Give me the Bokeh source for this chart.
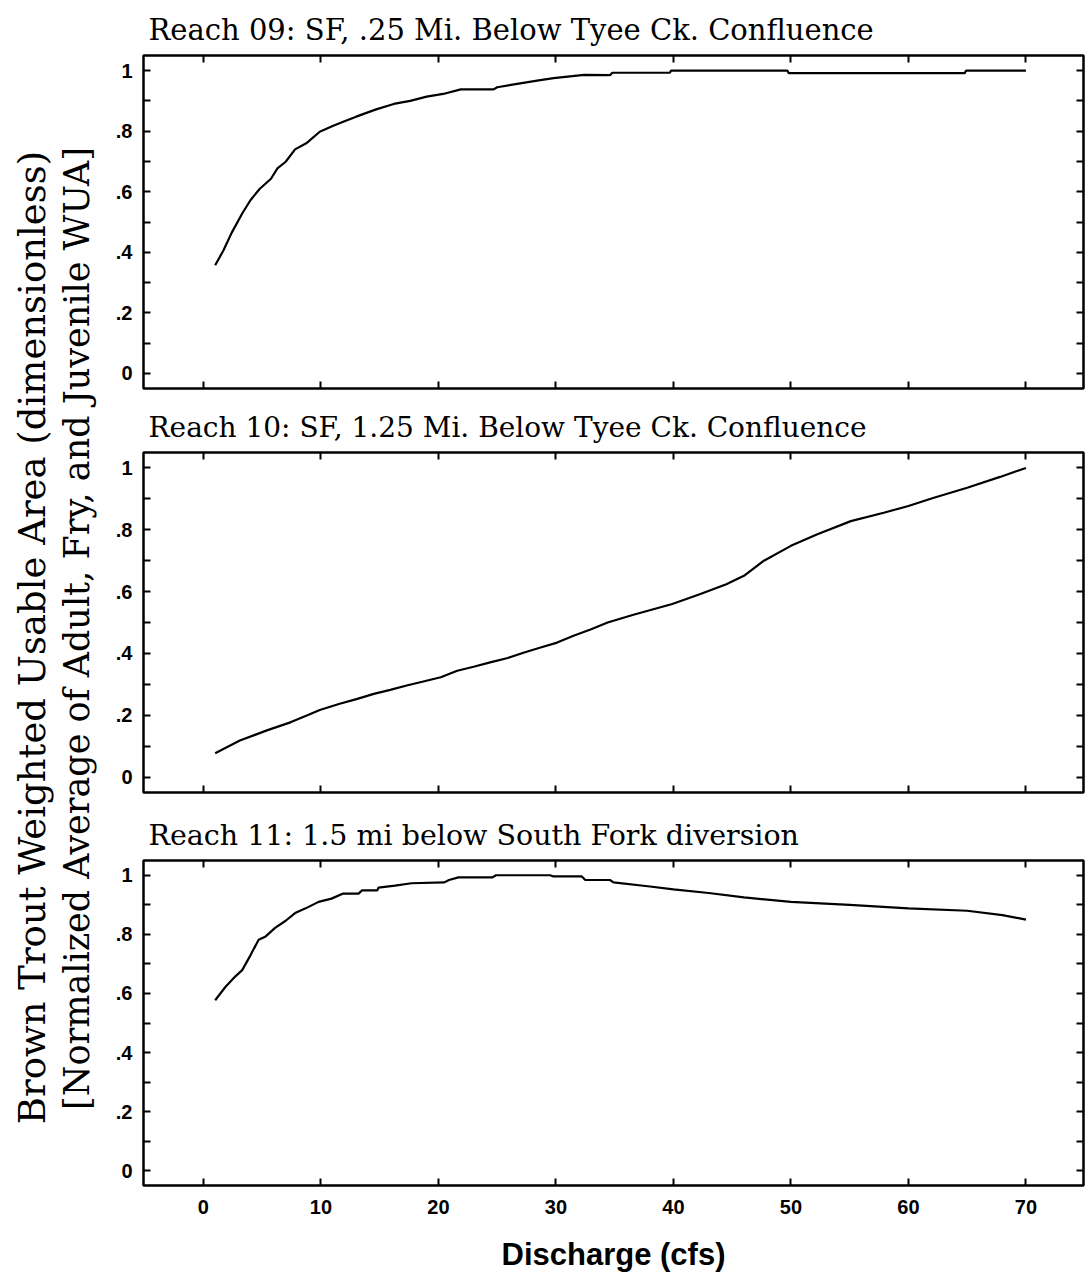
import math
from bokeh.plotting import figure
from bokeh.layouts import row, column
from bokeh.models import Range1d, LinearAxis, FixedTicker
from bokeh.core.properties import value
from bokeh.embed import file_html
from bokeh.resources import INLINE

# ---------------- data ----------------
titles = [
    "Reach 09:  SF,  .25 Mi. Below Tyee Ck.  Confluence",
    "Reach 10:  SF, 1.25 Mi. Below Tyee Ck. Confluence",
    "Reach 11: 1.5 mi below South Fork diversion",
]

reach09_x = [1.0, 1.7, 2.4, 3.3, 4.0, 4.8, 5.75, 6.3, 7.0, 7.8, 8.75, 9.9, 11.0, 11.9,
             13.0, 14.7, 16.2, 17.6, 19.0, 20.4, 21.9, 24.7, 25.0, 26.7, 28.4, 29.8,
             32.4, 34.6, 34.8, 39.7, 39.8, 49.7, 49.8, 64.8, 64.9, 70.0]
reach09_y = [0.357, 0.406, 0.464, 0.528, 0.572, 0.61, 0.643, 0.677, 0.699, 0.74, 0.76,
             0.798, 0.817, 0.831, 0.848, 0.872, 0.89, 0.90, 0.914, 0.923, 0.938, 0.938,
             0.945, 0.956, 0.967, 0.975, 0.986, 0.985, 0.993, 0.993, 1.0, 1.0, 0.992,
             0.992, 1.0, 1.0]

reach10_x = [1.0, 3.1, 5.4, 7.4, 8.8, 9.9, 11.6, 13.1, 14.5, 15.9, 17.3, 18.8, 20.2,
             21.6, 23.0, 24.4, 25.9, 27.3, 28.7, 30.1, 31.5, 33.0, 34.4, 36.6, 39.9,
             42.3, 44.5, 46.0, 47.7, 50.0, 52.2, 55.1, 57.9, 60.0, 62.1, 65.0, 67.8, 70.0]
reach10_y = [0.077, 0.118, 0.151, 0.177, 0.199, 0.217, 0.237, 0.253, 0.269, 0.282,
             0.296, 0.31, 0.323, 0.344, 0.357, 0.371, 0.385, 0.403, 0.419, 0.435, 0.457,
             0.478, 0.5, 0.525, 0.56, 0.592, 0.624, 0.651, 0.70, 0.748, 0.785, 0.828,
             0.855, 0.877, 0.903, 0.936, 0.971, 1.0]

reach11_x = [1.0, 1.85, 2.7, 3.3, 4.0, 4.7, 5.3, 6.1, 7.0, 7.8, 8.7, 9.8, 10.9, 11.9,
             13.2, 13.5, 14.8, 14.9, 16.3, 17.7, 20.5, 20.9, 21.7, 24.6, 24.9, 29.5,
             29.8, 32.2, 32.5, 34.6, 34.9, 38.0, 40.0, 43.0, 46.0, 50.0, 55.0, 60.0,
             65.0, 68.0, 70.0]
reach11_y = [0.577, 0.621, 0.657, 0.679, 0.729, 0.782, 0.793, 0.822, 0.846, 0.872,
             0.888, 0.91, 0.921, 0.938, 0.938, 0.949, 0.949, 0.958, 0.965, 0.973, 0.976,
             0.984, 0.993, 0.993, 1.0, 1.0, 0.996, 0.996, 0.984, 0.984, 0.976, 0.962,
             0.952, 0.94, 0.925, 0.91, 0.90, 0.888, 0.88, 0.865, 0.85]

xtick_vals = [0, 10, 20, 30, 40, 50, 60, 70]
ytick_vals = [0.0, 0.2, 0.4, 0.6, 0.8, 1.0]
ytick_labels = ["0", ".2", ".4", ".6", ".8", "1"]
yminor_vals = [0.1, 0.3, 0.5, 0.7, 0.9]

ylabel_lines = [
    "Brown Trout Weighted Usable Area (dimensionless)",
    "[Normalized Average of Adult, Fry, and Juvenile WUA]",
]
xlabel = "Discharge (cfs)"

# ---------------- layout ----------------
LABEL_W = 105
PANEL_W = 1089 - LABEL_W
TICK_FONT = "Liberation Sans"


def style_axis(ax, ticker, show_labels, minor=None):
    ax.ticker = ticker
    ax.axis_line_color = None
    ax.major_tick_in = 7
    ax.major_tick_out = 0
    ax.major_tick_line_width = 2
    ax.major_tick_line_color = "black"
    if minor:
        ax.minor_tick_in = 7
        ax.minor_tick_out = 0
        ax.minor_tick_line_width = 2
        ax.minor_tick_line_color = "black"
    else:
        ax.minor_tick_line_color = None
    if show_labels:
        ax.major_label_text_font = TICK_FONT
        ax.major_label_text_font_style = "bold"
        ax.major_label_text_font_size = "20px"
        ax.major_label_text_color = "black"
    else:
        ax.major_label_text_font_size = "1px"
        ax.major_label_text_color = None
        ax.major_label_standoff = 0


def make_panel(title, xs, ys, height, btop, bbottom, bottom_labels, tsize):
    p = figure(width=PANEL_W, height=height,
               x_range=Range1d(-5.1, 74.9), y_range=Range1d(-0.05, 1.05),
               output_backend="svg", toolbar_location=None,
               min_border_left=38, min_border_right=6,
               min_border_top=btop, min_border_bottom=bbottom)
    p.xgrid.visible = False
    p.ygrid.visible = False
    p.outline_line_color = "black"
    p.outline_line_width = 2.5
    p.background_fill_color = "white"
    p.border_fill_color = "white"

    yt = FixedTicker(ticks=ytick_vals, minor_ticks=yminor_vals)
    xt = FixedTicker(ticks=xtick_vals, minor_ticks=[])

    style_axis(p.xaxis[0], xt, bottom_labels)
    style_axis(p.yaxis[0], yt, True, minor=True)
    p.yaxis[0].major_label_overrides = dict(zip(ytick_vals, ytick_labels))
    p.yaxis[0].major_label_standoff = 11
    if bottom_labels:
        p.xaxis[0].major_label_standoff = 14
        p.xaxis[0].axis_label = xlabel
        p.xaxis[0].axis_label_text_font = "Liberation Sans"
        p.xaxis[0].axis_label_text_font_style = "bold"
        p.xaxis[0].axis_label_text_font_size = "31px"
        p.xaxis[0].axis_label_text_color = "black"
        p.xaxis[0].axis_label_standoff = 20

    right = LinearAxis()
    style_axis(right, FixedTicker(ticks=ytick_vals, minor_ticks=yminor_vals), False, minor=True)
    p.add_layout(right, "right")
    top = LinearAxis()
    style_axis(top, FixedTicker(ticks=xtick_vals, minor_ticks=[]), False)
    p.add_layout(top, "above")

    p.title.text = title
    p.title.text_font = "DejaVu Serif"
    p.title.text_font_size = tsize
    p.title.text_font_style = "normal"
    p.title.text_color = "black"
    p.title.align = "left"
    p.title.offset = 5
    p.title.standoff = 17

    p.line(xs, ys, line_color="black", line_width=2.2)
    return p


p1 = make_panel(titles[0], reach09_x, reach09_y, 400, 55, 12, False, "29px")
p2 = make_panel(titles[1], reach10_x, reach10_y, 408, 49, 16, False, "28px")
p3 = make_panel(titles[2], reach11_x, reach11_y, 475, 47, 98, True, "28.5px")

lf = figure(width=LABEL_W, height=1283, x_range=Range1d(0, LABEL_W), y_range=Range1d(0, 1283),
            output_backend="svg", toolbar_location=None, min_border=0,
            x_axis_location=None, y_axis_location=None)
lf.xgrid.visible = False
lf.ygrid.visible = False
lf.outline_line_color = None
lf.text(x=[32, 76], y=[1283 - 637, 1283 - 628], text=ylabel_lines, angle=math.pi / 2,
        text_font=value("DejaVu Serif"), text_font_size=["37px", "35px"],
        text_align="center", text_baseline="middle", text_color="black")

layout = row(lf, column(p1, p2, p3))
open("out.html", "w").write(file_html(layout, INLINE))
